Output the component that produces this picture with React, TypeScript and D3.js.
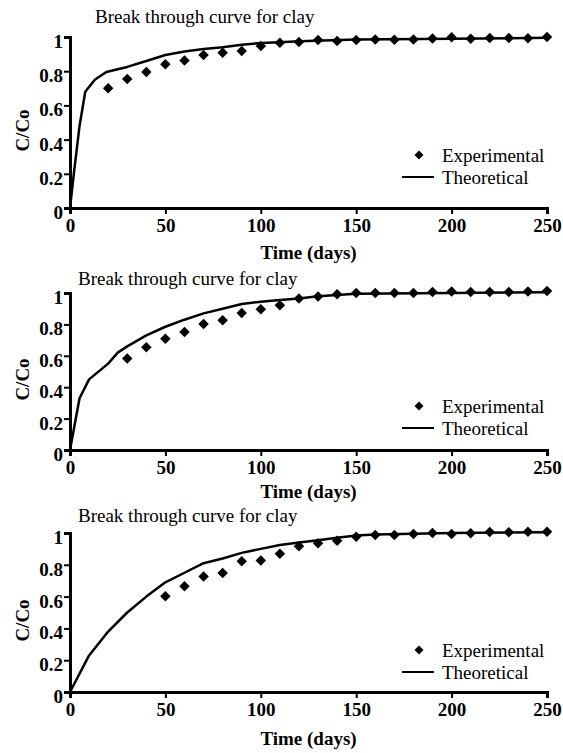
import * as d3 from "d3";
import { useEffect, useRef } from "react";

type Pt = [number, number];

// time values (days) of the experimental points
const expTimes1 = [20, 30, 40, 50, 60, 70, 80, 90, 100, 110, 120, 130, 140, 150, 160, 170, 180, 190, 200, 210, 220, 230, 240, 250];
const expValues1 = [0.70, 0.755, 0.795, 0.84, 0.862, 0.895, 0.908, 0.918, 0.948, 0.967, 0.971, 0.983, 0.977, 0.983, 0.986, 0.984, 0.986, 0.991, 0.998, 0.99, 0.994, 0.994, 0.993, 1.0];
const theoTimes1 = [0, 2, 5, 8, 13, 19, 30, 40, 50, 60, 70, 80, 90, 100, 110, 120, 150, 200, 250];
const theoValues1 = [0, 0.2, 0.48, 0.68, 0.75, 0.795, 0.825, 0.86, 0.895, 0.915, 0.93, 0.94, 0.955, 0.965, 0.97, 0.975, 0.985, 0.99, 0.995];

const expTimes2 = [30, 40, 50, 60, 70, 80, 90, 100, 110, 120, 130, 140, 150, 160, 170, 180, 190, 200, 210, 220, 230, 240, 250];
const expValues2 = [0.583, 0.654, 0.708, 0.752, 0.803, 0.827, 0.873, 0.896, 0.922, 0.965, 0.978, 0.992, 1.0, 1.0, 1.0, 1.0, 1.007, 1.01, 1.007, 1.007, 1.007, 1.01, 1.012];
const theoTimes2 = [0, 5, 10, 20, 25, 30, 40, 50, 60, 70, 80, 90, 100, 110, 120, 130, 150, 200, 250];
const theoValues2 = [0, 0.33, 0.45, 0.55, 0.62, 0.66, 0.73, 0.785, 0.83, 0.87, 0.9, 0.93, 0.945, 0.955, 0.965, 0.98, 0.995, 1.0, 1.005];

const expTimes3 = [50, 60, 70, 80, 90, 100, 110, 120, 130, 140, 150, 160, 170, 180, 190, 200, 210, 220, 230, 240, 250];
const expValues3 = [0.602, 0.665, 0.727, 0.748, 0.823, 0.827, 0.869, 0.917, 0.935, 0.952, 0.977, 0.988, 0.988, 0.994, 1.0, 0.994, 0.998, 1.006, 1.004, 1.008, 1.008];
const theoTimes3 = [0, 10, 20, 30, 40, 50, 60, 70, 80, 90, 100, 110, 120, 130, 140, 150, 160, 200, 250];
const theoValues3 = [0, 0.23, 0.38, 0.5, 0.6, 0.69, 0.75, 0.81, 0.84, 0.875, 0.9, 0.925, 0.94, 0.955, 0.97, 0.985, 0.99, 1.0, 1.005];

const xTicks = [0, 50, 100, 150, 200, 250];
const yTicks = [0, 0.2, 0.4, 0.6, 0.8, 1];

const titleText = "Break through curve for clay";
const xLabel = "Time (days)";
const yLabel = "C/Co";
const legendLabels = ["Experimental", "Theoretical"];

const zip = (a: number[], b: number[]): Pt[] => a.map((t, i) => [t, b[i]]);

const panels = [
  { exp: zip(expTimes1, expValues1), theo: zip(theoTimes1, theoValues1), top: 37, bottom: 208, titleX: 95, titleY: 23, xLabelY: 259, legendY: 155 },
  { exp: zip(expTimes2, expValues2), theo: zip(theoTimes2, theoValues2), top: 293, bottom: 450, titleX: 78, titleY: 285, xLabelY: 498, legendY: 406 },
  { exp: zip(expTimes3, expValues3), theo: zip(theoTimes3, theoValues3), top: 533, bottom: 692, titleX: 78, titleY: 522, xLabelY: 745, legendY: 650 },
];

const FONT = "Liberation Serif, DejaVu Serif, Times New Roman, serif";
const LEFT = 70;
const RIGHT = 547;

function Panel({ p }: { p: (typeof panels)[number] }) {
  const ref = useRef<SVGGElement | null>(null);

  useEffect(() => {
    if (!ref.current) return;
    const g = d3.select(ref.current);
    g.selectAll("*").remove();

    const x = d3.scaleLinear().domain([0, 250]).range([LEFT, RIGHT]);
    const y = d3.scaleLinear().domain([0, 1]).range([p.bottom, p.top]);

    // axes
    const ax = g.append("g")
      .attr("transform", `translate(0,${p.bottom})`)
      .call(d3.axisBottom(x).tickValues(xTicks).tickSize(6).tickPadding(5).tickFormat(d3.format("d")));
    const ay = g.append("g")
      .attr("transform", `translate(${LEFT},0)`)
      .call(d3.axisLeft(y).tickValues(yTicks).tickSize(6).tickPadding(1).tickFormat((d) => String(d)));
    [ax, ay].forEach((a) => {
      a.attr("font-family", FONT).attr("font-size", 19).attr("font-weight", "bold");
      a.select(".domain").attr("stroke", "#000").attr("stroke-width", 3);
      a.selectAll(".tick line").attr("stroke", "#000").attr("stroke-width", 2);
      a.selectAll(".tick text").attr("fill", "#000");
    });
    ay.selectAll(".tick text").attr("dy", "0.55em");

    // theoretical curve
    const line = d3.line<Pt>().x((d) => x(d[0])).y((d) => y(d[1]));
    g.append("path")
      .datum(p.theo)
      .attr("d", line)
      .attr("fill", "none")
      .attr("stroke", "#000")
      .attr("stroke-width", 2.5)
      .attr("stroke-linejoin", "round");

    // experimental points
    const diamond = d3.symbol().type(d3.symbolSquare).size(55);
    g.append("g")
      .selectAll("path")
      .data(p.exp)
      .join("path")
      .attr("d", diamond)
      .attr("transform", (d) => `translate(${x(d[0])},${y(d[1])}) rotate(45)`)
      .attr("fill", "#000");

    // legend
    const lg = g.append("g").attr("transform", `translate(0,${p.legendY})`);
    lg.append("path")
      .attr("d", d3.symbol().type(d3.symbolSquare).size(40)())
      .attr("transform", "translate(419,0) rotate(45)")
      .attr("fill", "#000");
    lg.append("line")
      .attr("x1", 402).attr("x2", 434)
      .attr("y1", 22).attr("y2", 22)
      .attr("stroke", "#000").attr("stroke-width", 2);
    lg.selectAll("text")
      .data(legendLabels)
      .join("text")
      .attr("x", 442)
      .attr("y", (_, i) => i * 22)
      .attr("dy", "0.35em")
      .attr("font-family", FONT)
      .attr("font-size", 19)
      .text((d) => d);

    // labels
    g.append("text")
      .attr("x", p.titleX)
      .attr("y", p.titleY)
      .attr("font-family", FONT)
      .attr("font-size", 19)
      .text(titleText);
    g.append("text")
      .attr("x", (LEFT + RIGHT) / 2)
      .attr("y", p.xLabelY)
      .attr("text-anchor", "middle")
      .attr("font-family", FONT)
      .attr("font-size", 19)
      .attr("font-weight", "bold")
      .text(xLabel);
    g.append("text")
      .attr("transform", `translate(29,${(p.top + p.bottom) / 2 + 8}) rotate(-90)`)
      .attr("text-anchor", "middle")
      .attr("font-family", FONT)
      .attr("font-size", 19)
      .attr("font-weight", "bold")
      .text(yLabel);
  }, [p]);

  return <g ref={ref} />;
}

export default function App() {
  return (
    <svg
      width={563}
      height={753}
      fontFamily={FONT}
      style={{ position: "absolute", left: 0, top: 0, background: "#fff" }}
    >
      {panels.map((p, i) => (
        <Panel key={i} p={p} />
      ))}
    </svg>
  );
}
